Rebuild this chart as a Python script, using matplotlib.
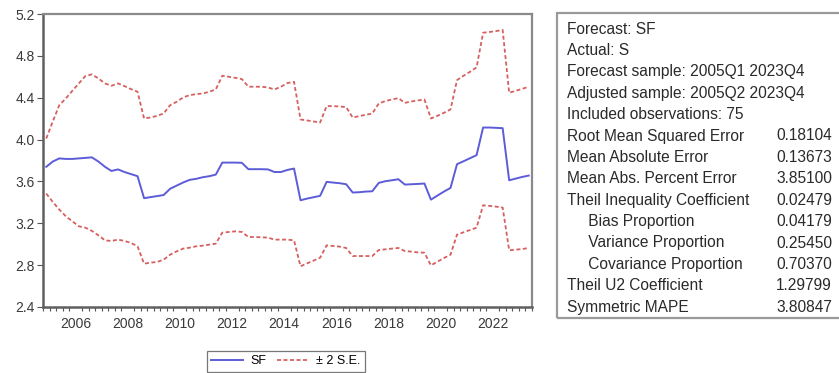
import matplotlib
matplotlib.use("Agg")
import matplotlib.pyplot as plt
import matplotlib.patches as mpatches
import numpy as np
import pandas as pd

plt.rcParams['font.family'] = ['Liberation Sans', 'DejaVu Sans']

# Quarterly sample 2005Q2 - 2023Q4 (75 observations)
quarters = pd.period_range('2005Q2', '2023Q4', freq='Q')

# Forecast SF
sf = [3.74, 3.79, 3.82, 3.815, 3.815, 3.82, 3.825, 3.83, 3.79, 3.74,
      3.70, 3.715, 3.69, 3.67, 3.65, 3.44, 3.45, 3.46, 3.47, 3.53,
      3.56, 3.59, 3.615, 3.625, 3.64, 3.65, 3.665, 3.78, 3.78, 3.78,
      3.778, 3.717, 3.717, 3.717, 3.715, 3.69, 3.69, 3.71, 3.723, 3.42,
      3.436, 3.449, 3.462, 3.596, 3.589, 3.583, 3.573, 3.494, 3.497, 3.503,
      3.506, 3.586, 3.602, 3.611, 3.621, 3.570, 3.573, 3.576, 3.580, 3.426,
      3.465, 3.503, 3.538, 3.765, 3.793, 3.822, 3.851, 4.115, 4.115, 4.112,
      4.109, 3.611, 3.627, 3.643, 3.656]

# SF + 2 S.E.
upper = [4.010, 4.173, 4.329, 4.393, 4.466, 4.537, 4.607, 4.623, 4.584, 4.537,
         4.514, 4.537, 4.511, 4.482, 4.457, 4.202, 4.211, 4.227, 4.249, 4.329,
         4.361, 4.403, 4.425, 4.434, 4.440, 4.457, 4.479, 4.610, 4.600, 4.590,
         4.578, 4.505, 4.505, 4.505, 4.498, 4.479, 4.505, 4.540, 4.552, 4.192,
         4.183, 4.173, 4.163, 4.320, 4.320, 4.316, 4.310, 4.211, 4.224, 4.237,
         4.249, 4.345, 4.368, 4.383, 4.396, 4.351, 4.364, 4.374, 4.383, 4.202,
         4.227, 4.256, 4.288, 4.568, 4.610, 4.648, 4.690, 5.021, 5.028, 5.037,
         5.047, 4.447, 4.466, 4.485, 4.505]

# SF - 2 S.E.
lower = [3.484, 3.404, 3.331, 3.267, 3.219, 3.171, 3.158, 3.127, 3.085, 3.037,
         3.031, 3.044, 3.031, 3.012, 2.980, 2.814, 2.824, 2.830, 2.852, 2.900,
         2.932, 2.958, 2.967, 2.980, 2.986, 2.996, 3.005, 3.111, 3.117, 3.123,
         3.117, 3.069, 3.069, 3.066, 3.063, 3.044, 3.044, 3.044, 3.037, 2.789,
         2.817, 2.843, 2.871, 2.989, 2.983, 2.977, 2.964, 2.887, 2.887, 2.887,
         2.887, 2.945, 2.951, 2.958, 2.964, 2.935, 2.929, 2.922, 2.919, 2.798,
         2.833, 2.868, 2.900, 3.092, 3.114, 3.136, 3.158, 3.372, 3.366, 3.359,
         3.350, 2.942, 2.948, 2.954, 2.964]

year_labels = ['2006', '2008', '2010', '2012', '2014', '2016', '2018', '2020', '2022']
y_ticks = [2.4, 2.8, 3.2, 3.6, 4.0, 4.4, 4.8, 5.2]

stats_labels = ['Forecast: SF', 'Actual: S', 'Forecast sample: 2005Q1 2023Q4',
                'Adjusted sample: 2005Q2 2023Q4', 'Included observations: 75',
                'Root Mean Squared Error', 'Mean Absolute Error',
                'Mean Abs. Percent Error', 'Theil Inequality Coefficient',
                '     Bias Proportion', '     Variance Proportion',
                '     Covariance Proportion', 'Theil U2 Coefficient', 'Symmetric MAPE']
stats_values = ['', '', '', '', '', '0.18104', '0.13673', '3.85100', '0.02479',
                '0.04179', '0.25450', '0.70370', '1.29799', '3.80847']

W, H = 839, 373
fig = plt.figure(figsize=(W / 100, H / 100), dpi=100)
ax = fig.add_axes([43 / W, 1 - 307 / H, 489 / W, 293 / H])

# observations sit in the middle of each quarter
x = quarters.year + (quarters.quarter - 0.5) / 4.0

blue = '#5c5cd8'
red = '#d66060'
ax.plot(x, sf, color=blue, lw=1.4, label='SF')
ax.plot(x, upper, color=red, lw=1.3, dashes=(2.2, 1.4), label='\u00b1 2 S.E.')
ax.plot(x, lower, color=red, lw=1.3, dashes=(2.2, 1.4))

ax.set_xlim(2005.25, 2024.0)
ax.set_ylim(2.4, 5.2)
ax.set_yticks(y_ticks)
ax.set_yticklabels([f'{v:.1f}' for v in y_ticks])

# year labels centred on each year, quarter tick marks
ax.set_xticks([int(y) + 0.5 for y in year_labels])
ax.set_xticklabels(year_labels)
ax.set_xticks(np.arange(2005.25, 2024.01, 0.25), minor=True)
ax.tick_params(axis='x', which='major', length=0, pad=7, labelsize=10, labelcolor='#3a3a3a')
ax.tick_params(axis='x', which='minor', length=3, width=0.8, color='#555555')
ax.tick_params(axis='y', length=4, width=0.8, color='#555555', pad=2,
               labelsize=10, labelcolor='#3a3a3a')

for side in ['left', 'bottom']:
    ax.spines[side].set_color('#606060')
    ax.spines[side].set_linewidth(1.8)
for side in ['top', 'right']:
    ax.spines[side].set_color('#8a8a8a')
    ax.spines[side].set_linewidth(1.6)

leg = fig.legend(loc='upper left', bbox_to_anchor=(207 / W, 1 - 351 / H), ncol=2,
                 frameon=True, fancybox=False, edgecolor='#555555', fontsize=9,
                 handlelength=2.5, handletextpad=0.6, columnspacing=0.9,
                 borderaxespad=0, borderpad=0.35)
leg.get_frame().set_linewidth(0.9)

# statistics box, running off the right edge
box = mpatches.Rectangle((557 / W, 1 - 318 / H), 300 / W, 305 / H,
                         transform=fig.transFigure, fill=False,
                         edgecolor='#9a9a9a', linewidth=1.6)
fig.add_artist(box)

for k, (lab, val) in enumerate(zip(stats_labels, stats_values)):
    yy = 1 - (29 + k * 21.4) / H
    fig.text(567 / W, yy, lab, fontsize=11.2, color='#2a2a2a', va='center', ha='left')
    if val:
        fig.text(776 / W, yy, val, fontsize=11.2, color='#2a2a2a', va='center', ha='left')

fig.savefig('out.png', dpi=100)
